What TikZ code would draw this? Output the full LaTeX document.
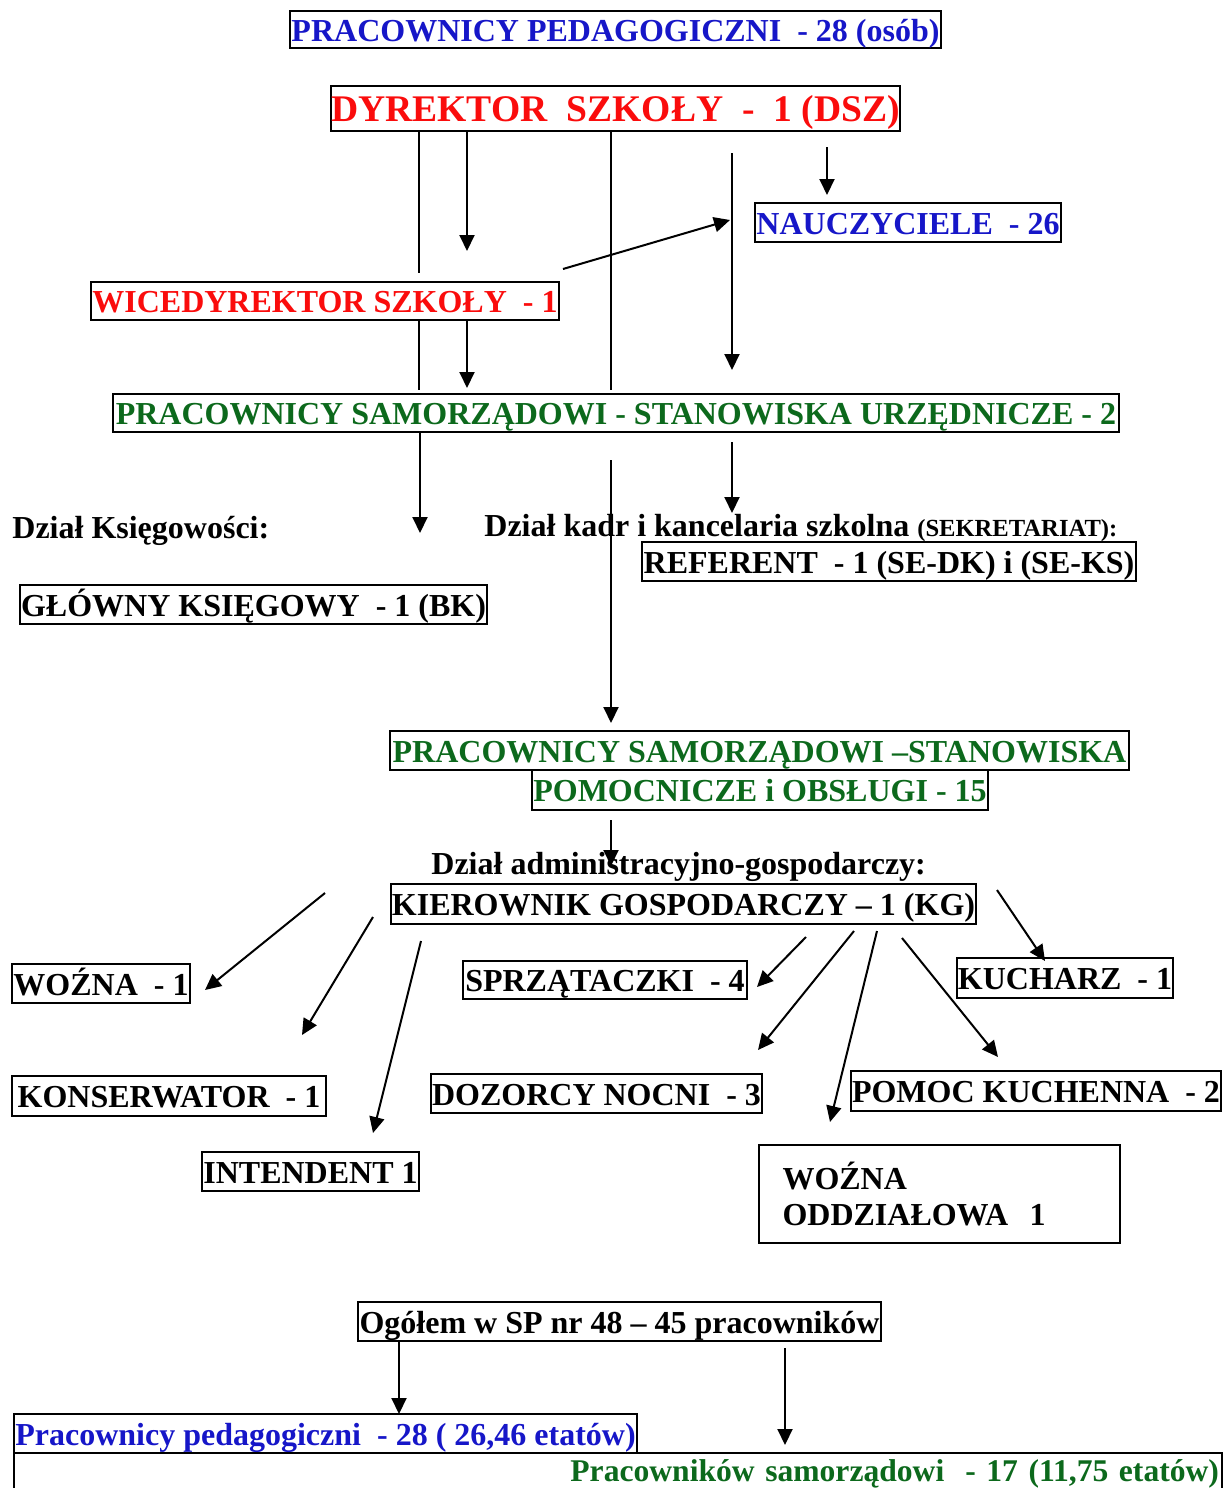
\documentclass[tikz,border=0pt]{standalone}
\usepackage{fontspec}
\setmainfont{Liberation Serif}
\usetikzlibrary{arrows.meta}

\definecolor{niebieski}{RGB}{22,22,200}
\definecolor{czerwony}{RGB}{250,12,12}
\definecolor{zielony}{RGB}{12,105,28}

\tikzset{
  ramka/.style 2 args={draw=black, line width=1.1pt, inner sep=0pt,
    minimum width=#1*0.5pt, minimum height=#2*0.5pt,
    text height=11.5pt, text depth=0pt,
    font=\bfseries\fontsize{16}{18}\selectfont},
  opis/.style={inner sep=0pt, anchor=base west,
    font=\bfseries\fontsize{16}{18}\selectfont},
  linia/.style={line width=1pt},
  strz/.style={line width=1pt, -{Triangle[length=8pt,width=7.5pt]}},
}

\begin{document}
\begin{tikzpicture}[x=0.5pt,y=-0.5pt]
        \useasboundingbox (0,0) rectangle (1225,1488);

        % kadra kierownicza
        \node[ramka={651}{37}, text=niebieski] (ped) at (615.5,29.5) {PRACOWNICY PEDAGOGICZNI\ \ - 28 (osób)};
        \node[ramka={567}{45}, text=czerwony, text height=13.2pt, font=\bfseries\fontsize{18.8}{20}\selectfont] (dsz) at (615.5,108.5) {DYREKTOR\ \ SZKOŁY\ \ -\ \ 1 (DSZ)};
        \node[ramka={306}{39}, text=niebieski] (nau) at (908,222.5) {NAUCZYCIELE\ \ - 26};
        \node[ramka={468}{38}, text=czerwony] (wice) at (325,301) {WICEDYREKTOR SZKOŁY\ \ - 1};
        \node[ramka={1006}{38}, text=zielony] (psu) at (616,413) {PRACOWNICY SAMORZĄDOWI - STANOWISKA URZĘDNICZE - 2};

        % dzialy
        \node[opis] (ksieg) at (12,538) {Dział Księgowości:};
        \node[opis] (kadry) at (484,536) {Dział kadr i kancelaria szkolna {\fontsize{12.3}{14}\selectfont(SEKRETARIAT):}};
        \node[ramka={494}{39}] (ref) at (889,561.5) {REFERENT\ \ - 1 (SE-DK) i (SE-KS)};
        \node[ramka={467}{39}] (bk) at (253.5,604.5) {GŁÓWNY KSIĘGOWY\ \ - 1 (BK)};
        \node[ramka={739}{39}, text=zielony] (pss) at (759.5,750.5) {PRACOWNICY SAMORZĄDOWI –STANOWISKA};
        \node[ramka={456}{40}, text=zielony] (pob) at (760,790) {POMOCNICZE i OBSŁUGI - 15};
        \node[opis] (admin) at (431,874) {Dział administracyjno-gospodarczy:};
        \node[ramka={585}{40}] (kg) at (683.5,904) {KIEROWNIK GOSPODARCZY – 1 (KG)};

        % obsluga
        \node[ramka={178}{39}] (wozna) at (101,983.5) {WOŹNA\ \ - 1};
        \node[ramka={284}{38}] (sprz) at (605,980) {SPRZĄTACZKI\ \ - 4};
        \node[ramka={216}{40}] (kuch) at (1065,978) {KUCHARZ\ \ - 1};
        \node[ramka={314}{40}] (kons) at (169,1096) {KONSERWATOR\ \ - 1};
        \node[ramka={331}{39}] (doz) at (596.5,1093.5) {DOZORCY NOCNI\ \ - 3};
        \node[ramka={370}{40}] (pomoc) at (1036,1091) {POMOC KUCHENNA\ \ - 2};
        \node[ramka={217}{39}] (intend) at (310.5,1171.5) {INTENDENT 1};
        \node[ramka={361}{98}, text height={}, text depth={}, inner xsep=11.5pt, text width=157pt, align=left] (oddz) at (939.5,1194) {WOŹNA\\ODDZIAŁOWA\ \ 1};

        % podsumowanie
        \node[ramka={523}{39}] (ogol) at (619.5,1321.5) {Ogółem w SP nr 48 – 45 pracowników};
        \node[ramka={623}{39}, text=niebieski] (pedb) at (325.5,1433.5) {Pracownicy pedagogiczni\ \ - 28 ( 26,46 etatów)};
        \node[ramka={1208}{42}, text=zielony, text depth=4pt, inner xsep=1.5pt, text width=601pt, align=right, font=\bfseries\fontsize{15.8}{18}\selectfont] (samb) at (618,1474) {Pracowników samorządowi\ \ - 17 (11,75 etatów)};

        % polaczenia od dyrektora
        \coordinate (a1) at (419,273);
        \coordinate (a2) at (467,251);
        \coordinate (a3) at (611,390);
        \coordinate (a4s) at (732,153);  \coordinate (a4) at (732,370);
        \coordinate (a5s) at (827,147);  \coordinate (a5) at (827,195);
        \coordinate (a6s) at (563,269);  \coordinate (a6) at (730,220);
        \draw[linia] (dsz.south -| a1) -- (a1);
        \draw[strz] (dsz.south -| a2) -- (a2);
        \draw[linia] (dsz.south -| a3) -- (a3);
        \draw[strz] (a4s) -- (a4);
        \draw[strz] (a5s) -- (a5);
        \draw[strz] (a6s) -- (a6);

        % od wicedyrektora
        \coordinate (b1) at (419,390);
        \coordinate (b2) at (467,388);
        \draw[linia] (wice.south -| b1) -- (b1);
        \draw[strz] (wice.south -| b2) -- (b2);

        % od stanowisk urzedniczych
        \coordinate (c1) at (420,533);
        \coordinate (c2s) at (732,442); \coordinate (c2) at (732,513);
        \coordinate (c3s) at (611,460); \coordinate (c3) at (611,723);
        \coordinate (d1s) at (611,820); \coordinate (d1) at (611,866);
        \draw[strz] (psu.south -| c1) -- (c1);
        \draw[strz] (c2s) -- (c2);
        \draw[strz] (c3s) -- (c3);
        \draw[strz] (d1s) -- (d1);

        % od kierownika gospodarczego
        \coordinate (e1s) at (325,893);  \coordinate (e1) at (205,990);
        \coordinate (e2s) at (373,917);  \coordinate (e2) at (302,1035);
        \coordinate (e3s) at (421,941);  \coordinate (e3) at (373,1133);
        \coordinate (e4s) at (806,937);  \coordinate (e4) at (757,987);
        \coordinate (e5s) at (854,931);  \coordinate (e5) at (758,1050);
        \coordinate (e6s) at (877,931);  \coordinate (e6) at (830,1122);
        \coordinate (e7s) at (902,938);  \coordinate (e7) at (998,1057);
        \coordinate (e8s) at (997,890);  \coordinate (e8) at (1045,961);
        \foreach \e in {e1,e2,e3,e4,e5,e6,e7,e8}
          \draw[strz] (\e s) -- (\e);

        % ogolem
        \coordinate (f1) at (399,1414);
        \coordinate (f2s) at (785,1348); \coordinate (f2) at (785,1445);
        \draw[strz] (ogol.south -| f1) -- (f1);
        \draw[strz] (f2s) -- (f2);
    \end{tikzpicture}
\end{document}
